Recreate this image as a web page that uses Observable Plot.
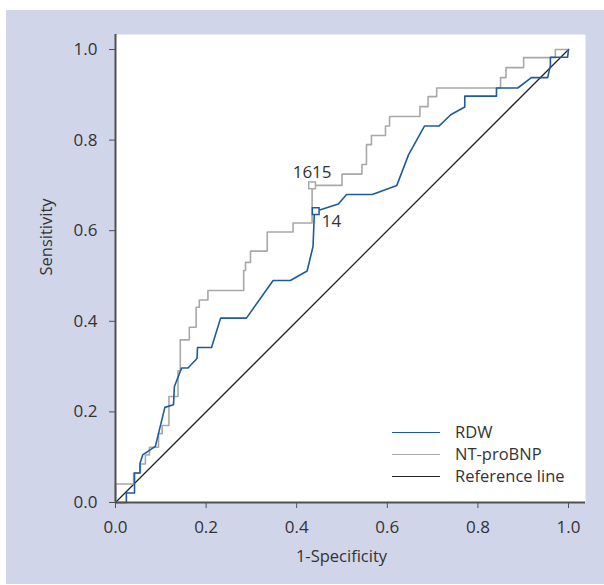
<!DOCTYPE html>
<html><head><meta charset="utf-8">
<script src="https://cdn.jsdelivr.net/npm/d3@7"></script>
<script src="https://cdn.jsdelivr.net/npm/@observablehq/plot@0.6"></script>
<style>
body{margin:0;background:#fff;font-family:"Open Sans",sans-serif;}
#wrap{position:relative;width:604px;height:585px;overflow:hidden;}
#panel{position:absolute;left:6px;top:10px;width:598px;height:574px;background:#d0d5e9;}
#chart{position:absolute;left:0;top:0;}
#legend{position:absolute;left:392px;top:421px;font-size:16.5px;color:#333;line-height:22px;}
.row{display:flex;align-items:center;height:22px;}
.sw{width:48px;height:0;border-top:1.6px solid;margin-right:15px;}
</style></head>
<body><div id="wrap"><div id="panel"></div><div id="chart"></div><div id="legend"></div></div>
<script>
// RDW ROC curve (1-specificity, sensitivity)
const rdwFpr = [0,0.024,0.024,0.042,0.042,0.054,0.054,0.060,0.088,0.109,0.128,0.130,0.146,0.160,0.180,0.181,0.212,0.232,0.289,0.348,0.386,0.423,0.436,0.439,0.442,0.492,0.510,0.567,0.621,0.647,0.682,0.714,0.740,0.771,0.771,0.841,0.841,0.888,0.918,0.954,0.960,0.960,0.998,1];
const rdwTpr = [0,0,0.021,0.021,0.065,0.065,0.086,0.105,0.124,0.210,0.216,0.256,0.297,0.297,0.318,0.342,0.342,0.407,0.407,0.490,0.490,0.511,0.565,0.639,0.643,0.659,0.680,0.680,0.700,0.768,0.831,0.831,0.856,0.873,0.897,0.897,0.915,0.915,0.938,0.938,0.965,0.983,0.983,1];
// NT-proBNP ROC curve
const ntFpr = [0,0,0.040,0.040,0.055,0.055,0.066,0.066,0.075,0.075,0.095,0.095,0.103,0.103,0.118,0.118,0.138,0.138,0.143,0.143,0.163,0.163,0.178,0.178,0.185,0.185,0.204,0.204,0.283,0.283,0.287,0.287,0.298,0.298,0.335,0.335,0.392,0.392,0.434,0.434,0.500,0.500,0.544,0.544,0.554,0.554,0.565,0.565,0.596,0.596,0.605,0.605,0.672,0.672,0.690,0.690,0.709,0.709,0.850,0.850,0.862,0.862,0.901,0.901,0.971,0.971,1];
const ntTpr = [0,0.041,0.041,0.065,0.065,0.085,0.085,0.105,0.105,0.122,0.122,0.152,0.152,0.170,0.170,0.234,0.234,0.291,0.291,0.359,0.359,0.387,0.387,0.431,0.431,0.447,0.447,0.468,0.468,0.512,0.512,0.530,0.530,0.555,0.555,0.597,0.597,0.617,0.617,0.700,0.700,0.725,0.725,0.746,0.746,0.790,0.790,0.810,0.810,0.831,0.831,0.852,0.852,0.874,0.874,0.896,0.896,0.915,0.915,0.938,0.938,0.960,0.960,0.982,0.982,1,1];
// Reference line
const refX = [0,1];
const refY = [0,1];
// Cut-off markers
const cutLabels = ["1615","14"];
const cutSeries = ["NT-proBNP","RDW"];
const cutFpr = [0.434,0.442];
const cutTpr = [0.700,0.643];
// Axis ticks
const ticks = [0,0.2,0.4,0.6,0.8,1.0];
const seriesNames = ["RDW","NT-proBNP","Reference line"];
const seriesColors = ["#1d5b9e","#a8a8a8","#222222"];

const rdw = rdwFpr.map((x,i)=>({x, y:rdwTpr[i]}));
const nt = ntFpr.map((x,i)=>({x, y:ntTpr[i]}));
const ref = refX.map((x,i)=>({x, y:refY[i]}));
const cuts = cutLabels.map((l,i)=>({label:l, series:cutSeries[i], x:cutFpr[i], y:cutTpr[i]}));
const colorOf = s => seriesColors[seriesNames.indexOf(s)];

const axisColor = "#505050";
const chart = Plot.plot({
  width:604, height:585,
  marginLeft:115, marginRight:19, marginTop:34, marginBottom:83,
  style:{background:"transparent", fontFamily:"Open Sans, sans-serif", fontSize:"16px", color:"#333", overflow:"visible"},
  x:{domain:[0,470/453]},
  y:{domain:[0,468/453]},
  marks:[
    Plot.frame({fill:"white", stroke:null}),
    Plot.line(ref,{x:"x",y:"y",stroke:colorOf("Reference line"),strokeWidth:1.3}),
    Plot.line(nt,{x:"x",y:"y",stroke:colorOf("NT-proBNP"),strokeWidth:1.6}),
    Plot.line(rdw,{x:"x",y:"y",stroke:colorOf("RDW"),strokeWidth:1.6}),
    Plot.dot(cuts,{x:"x",y:"y",symbol:"square",r:3.8,fill:"white",stroke:d=>colorOf(d.series),strokeWidth:1.5}),
    Plot.text(cuts.filter(d=>d.series==="NT-proBNP"),{x:"x",y:"y",text:"label",dy:-13,fontSize:17,fill:"#333"}),
    Plot.text(cuts.filter(d=>d.series==="RDW"),{x:"x",y:"y",text:"label",dx:6,dy:10,textAnchor:"start",fontSize:17,fill:"#333"}),
    Plot.axisX({ticks, tickFormat:d3.format(".1f"), tickSize:6, tickPadding:12, label:null, stroke:axisColor, fill:"#333", fontSize:17}),
    Plot.axisY({ticks, tickFormat:d3.format(".1f"), tickSize:6, tickPadding:12, label:null, stroke:axisColor, fill:"#333", fontSize:17}),
    Plot.ruleX([0],{stroke:axisColor,strokeWidth:2}),
    Plot.ruleY([0],{stroke:axisColor,strokeWidth:2}),
    Plot.text(["1-Specificity"],{frameAnchor:"bottom",dx:-9,dy:59,fontSize:16.5,fill:"#333"}),
    Plot.text(["Sensitivity"],{frameAnchor:"left",rotate:-90,dx:-69,dy:7,fontSize:16.5,fill:"#333"})
  ]
});
document.getElementById("chart").appendChild(chart);

const legend = document.getElementById("legend");
seriesNames.forEach((name,i)=>{
  const row = document.createElement("div"); row.className="row";
  const sw = document.createElement("span"); sw.className="sw"; sw.style.borderTopColor = seriesColors[i];
  const tx = document.createElement("span"); tx.textContent = name;
  row.appendChild(sw); row.appendChild(tx); legend.appendChild(row);
});
</script>
</body></html>
